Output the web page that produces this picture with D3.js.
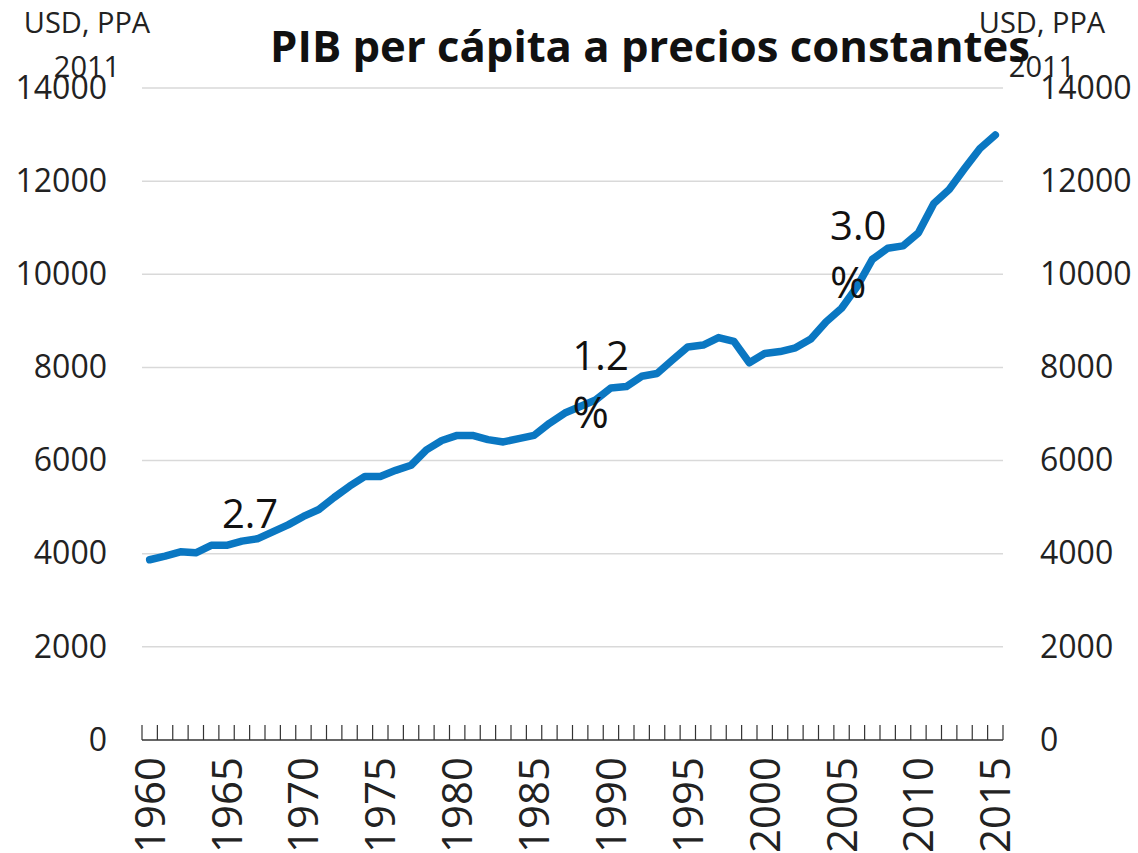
<!DOCTYPE html>
<html>
<head>
<meta charset="utf-8">
<script src="https://cdn.jsdelivr.net/npm/d3@7"></script>
<style>
  body { margin: 0; background: #fff; }
  svg { display: block; font-family: "Open Sans", "Noto Sans", sans-serif; }
</style>
</head>
<body>
<svg width="1138" height="853"></svg>
<script>
// Data: GDP per capita, USD PPP 2011
var years = d3.range(1960, 2016);
var gdp = [
  3870, 3950, 4040, 4020, 4180, 4180, 4270, 4320, 4470, 4620,
  4800, 4950, 5210, 5450, 5660, 5660, 5790, 5900, 6230, 6430,
  6540, 6540, 6450, 6400, 6470, 6540, 6800, 7020, 7160, 7300,
  7560, 7590, 7810, 7870, 8160, 8440, 8480, 8640, 8560, 8100,
  8300, 8340, 8420, 8610, 8980, 9270, 9730, 10320, 10560, 10610,
  10890, 11520, 11820, 12270, 12700, 12990
];
var yTicks = [0, 2000, 4000, 6000, 8000, 10000, 12000, 14000];
var yearLabels = [1960, 1965, 1970, 1975, 1980, 1985, 1990, 1995, 2000, 2005, 2010, 2015];
var annotations = [
  {year: 1965.2, value: 4550, lines: ['2.7']},
  {year: 1988.0, value: 7940, lines: ['1.2', '%']},
  {year: 2004.75, value: 10740, lines: ['3.0', '%']}
];
var title = 'PIB per cápita a precios constantes';
var unitLines = ['USD, PPA', '2011'];

var svg = d3.select('svg');

// Scales
var x = d3.scaleBand().domain(years).range([142, 1003]).padding(0);
var y = d3.scaleLinear().domain([0, 14000]).range([740, 88]);
var xc = d => x(d) + x.bandwidth() / 2;

// Gridlines
svg.append('g')
  .selectAll('line')
  .data(yTicks.filter(d => d > 0)).enter()
  .append('line')
  .attr('x1', 142).attr('x2', 1003)
  .attr('y1', d => y(d)).attr('y2', d => y(d))
  .attr('stroke', '#d9d9d9').attr('stroke-width', 1.5);

// Left and right value axes (text only)
var yAxisL = d3.axisLeft(y).tickValues(yTicks).tickFormat(d3.format('d')).tickSize(0).tickPadding(35);
var yAxisR = d3.axisRight(y).tickValues(yTicks).tickFormat(d3.format('d')).tickSize(0).tickPadding(37);
var gl = svg.append('g').attr('transform', 'translate(142,0)').call(yAxisL);
var gr = svg.append('g').attr('transform', 'translate(1003,0)').call(yAxisR);
[gl, gr].forEach(g => {
  g.select('.domain').remove();
  g.selectAll('text').attr('font-size', 32).attr('fill', '#222')
    .attr('font-family', '"Open Sans", sans-serif');
});

// Bottom category axis with tick marks between years
var xAxisG = svg.append('g');
xAxisG.append('line')
  .attr('x1', 142).attr('x2', 1003).attr('y1', 740).attr('y2', 740)
  .attr('stroke', '#333').attr('stroke-width', 1.5);
xAxisG.selectAll('.tk')
  .data(years.concat([2016])).enter()
  .append('line')
  .attr('class', 'tk')
  .attr('x1', d => d <= 2015 ? x(d) : x(2015) + x.bandwidth())
  .attr('x2', d => d <= 2015 ? x(d) : x(2015) + x.bandwidth())
  .attr('y1', 740).attr('y2', 725)
  .attr('stroke', '#333').attr('stroke-width', 1.2);
xAxisG.selectAll('.yl')
  .data(yearLabels).enter()
  .append('text')
  .attr('class', 'yl')
  .attr('transform', d => 'translate(' + (xc(d) + 15) + ',757) rotate(-90)')
  .attr('text-anchor', 'end')
  .attr('font-size', 42)
  .attr('fill', '#222')
  .text(d => d);

// The line
var line = d3.line().x((d, i) => xc(years[i])).y(d => y(d));
svg.append('path')
  .datum(gdp)
  .attr('fill', 'none')
  .attr('stroke', '#0a77c2')
  .attr('stroke-width', 7.5)
  .attr('stroke-linejoin', 'round')
  .attr('stroke-linecap', 'round')
  .attr('d', line);

// Growth annotations
annotations.forEach(a => {
  var t = svg.append('text')
    .attr('x', xc(Math.floor(a.year)) + (a.year - Math.floor(a.year)) * x.bandwidth() - x.bandwidth() / 2)
    .attr('y', y(a.value))
    .attr('font-size', 40)
    .attr('fill', '#111');
  a.lines.forEach((s, i) => {
    t.append('tspan')
      .attr('x', t.attr('x'))
      .attr('dy', i === 0 ? 0 : 58)
      .attr('font-size', i === 0 ? 40 : 44)
      .text(s);
  });
});

// Unit labels at the top of both axes
[87, 1042].forEach(cx => {
  unitLines.forEach((s, i) => {
    svg.append('text')
      .attr('x', cx).attr('y', 33 + i * 44)
      .attr('text-anchor', 'middle')
      .attr('font-size', 29)
      .attr('fill', '#222')
      .text(s);
  });
});

// Title
var tt = svg.append('text')
  .attr('x', 650).attr('y', 62)
  .attr('text-anchor', 'middle')
  .attr('font-size', 40)
  .attr('font-weight', 'bold')
  .attr('fill', '#111')
  .text(title);
var w = tt.node().getComputedTextLength();
tt.attr('font-size', 40 * 760 / w);
</script>
</body>
</html>
